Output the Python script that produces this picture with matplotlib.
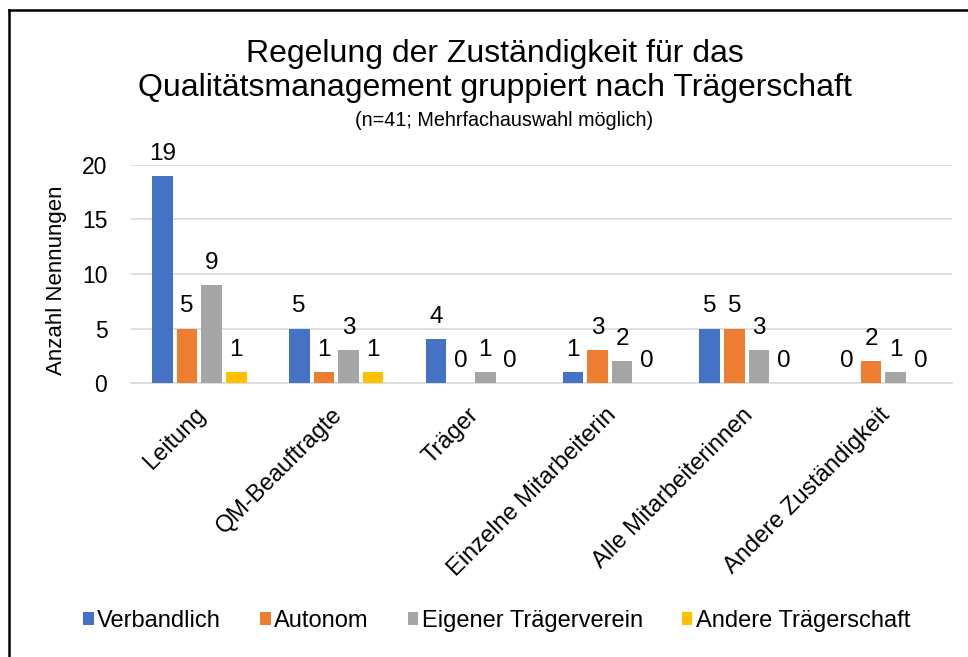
import numpy as np
import matplotlib.pyplot as plt
from matplotlib.lines import Line2D
from matplotlib.transforms import ScaledTranslation

plt.rcParams["font.family"] = ["Liberation Sans", "DejaVu Sans"]

# Daten
kategorien = [
    "Leitung",
    "QM-Beauftragte",
    "Träger",
    "Einzelne Mitarbeiterin",
    "Alle Mitarbeiterinnen",
    "Andere Zuständigkeit",
]
serien = ["Verbandlich", "Autonom", "Eigener Trägerverein", "Andere Trägerschaft"]
verbandlich = [19, 5, 4, 1, 5, 0]
autonom = [5, 1, 0, 3, 5, 2]
eigener_traegerverein = [9, 3, 1, 2, 3, 1]
andere_traegerschaft = [1, 1, 0, 0, 0, 0]
werte = [verbandlich, autonom, eigener_traegerverein, andere_traegerschaft]
farben = ["#4472C4", "#ED7D31", "#A5A5A5", "#FFC000"]

fig = plt.figure(figsize=(9.68, 6.57), dpi=100)
ax = fig.add_axes([0.1353, 0.417, 0.848, 0.332])

x = np.arange(len(kategorien))
step = 0.18
width = 0.15
for i, (name, vals, col) in enumerate(zip(serien, werte, farben)):
    pos = x + (i - 1.5) * step
    bars = ax.bar(pos, vals, width, color=col, label=name, zorder=3)
    ax.bar_label(bars, labels=[str(v) for v in vals], padding=8, fontsize=17.5)

ax.set_xlim(-0.5, len(kategorien) - 0.5)
ax.set_ylim(0, 20)
ax.set_yticks([0, 5, 10, 15, 20])
ax.yaxis.grid(True, color="#D9D9D9", linewidth=1.2, zorder=0)
for s in ["top", "right", "left"]:
    ax.spines[s].set_visible(False)
ax.spines["bottom"].set_color("#D9D9D9")
ax.spines["bottom"].set_linewidth(1.2)
ax.tick_params(axis="y", length=0, labelsize=16.5, pad=17)
ax.tick_params(axis="x", length=0, labelsize=17, pad=15)
ax.set_xticks(x)
ax.set_xticklabels(kategorien, rotation=45, ha="right", va="top", rotation_mode="anchor")
versatz = ScaledTranslation(-5 / 100, 0, fig.dpi_scale_trans)
for lbl in ax.get_xticklabels():
    lbl.set_transform(lbl.get_transform() + versatz)
ax.set_ylabel("Anzahl Nennungen", fontsize=16)
ax.yaxis.set_label_coords(-0.078, 0.472)

fig.text(0.511, 0.892, "Regelung der Zuständigkeit für das\nQualitätsmanagement gruppiert nach Trägerschaft",
         ha="center", va="center", fontsize=23, linespacing=1.16)
fig.text(0.5207, 0.816, "(n=41; Mehrfachauswahl möglich)", ha="center", va="center", fontsize=14.2)

fig.legend(loc="center", bbox_to_anchor=(0.513, 0.055), ncol=4, frameon=False,
           fontsize=17, handlelength=0.45, handleheight=0.45, handletextpad=0.15,
           columnspacing=1.65)

# Rahmen (nur oben und links sichtbar)
fig.add_artist(Line2D([9 / 968, 9 / 968], [0, 1 - 10 / 657], color="black", linewidth=1.8))
fig.add_artist(Line2D([9 / 968, 1], [1 - 10 / 657, 1 - 10 / 657], color="black", linewidth=1.8))

fig.savefig("out.png", dpi=100)
